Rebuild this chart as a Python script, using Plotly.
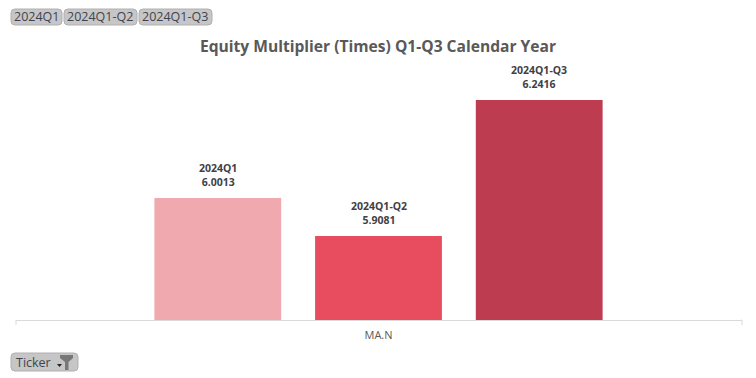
import plotly.graph_objects as go

W, H = 756, 378
L, R, T, B = 16, 741, 60, 320
BARGAP = 0.335

categories = ["MA.N"]
periods = ["2024Q1", "2024Q1-Q2", "2024Q1-Q3"]
equity_multiplier = [6.0013, 5.9081, 6.2416]
bar_colors = ["#F0A9AF", "#E84C5F", "#BE3C50"]
title_text = "Equity Multiplier (Times) Q1-Q3 Calendar Year"
filter_label = "Ticker"
FONT = "Open Sans"


def px(x):
    return (x - L) / (R - L)


def py(y):
    return (B - y) / (B - T)


def round_rect(x0, y0, x1, y1, r=4):
    xa, xb, ya, yb = px(x0), px(x1), py(y0), py(y1)
    rx, ry = r / (R - L), r / (B - T)
    return (f"M{xa+rx},{ya} L{xb-rx},{ya} Q{xb},{ya} {xb},{ya-ry} L{xb},{yb+ry} Q{xb},{yb} {xb-rx},{yb} "
            f"L{xa+rx},{yb} Q{xa},{yb} {xa},{yb+ry} L{xa},{ya-ry} Q{xa},{ya} {xa+rx},{ya} Z")


fig = go.Figure()
annotations = []
slot = (1 - BARGAP) / len(periods)
for i, (period, value, color) in enumerate(zip(periods, equity_multiplier, bar_colors)):
    fig.add_trace(go.Bar(
        x=categories, y=[value], name=period,
        marker=dict(color=color, line=dict(width=0)), showlegend=False,
    ))
    annotations.append(dict(
        xref="x", yref="y", x=(i - (len(periods) - 1) / 2) * slot, y=value, yshift=7,
        text=f"<b>{period}<br>{value:.4f}</b>", showarrow=False,
        xanchor="center", yanchor="bottom",
        font=dict(family=FONT, size=10.5, color="#3F3F46"),
    ))

shapes = []
buttons = [(11, 62, "2024Q1", 36.5), (64, 137, "2024Q1-Q2", 100), (139, 212, "2024Q1-Q3", 174.5)]
for x0, x1, label, cx in buttons:
    shapes.append(dict(type="path", xref="paper", yref="paper", path=round_rect(x0, 9, x1, 25),
                       fillcolor="#C6C6C6", line=dict(color="#B0B0B0", width=1)))
    annotations.append(dict(xref="paper", yref="paper", x=px(cx), y=py(17), text=label, showarrow=False,
                            xanchor="center", yanchor="middle",
                            font=dict(family=FONT, size=12.5, color="#3F4450")))

shapes.append(dict(type="path", xref="paper", yref="paper", path=round_rect(11, 353, 78, 371),
                   fillcolor="#C6C6C6", line=dict(color="#B0B0B0", width=1)))
annotations.append(dict(xref="paper", yref="paper", x=px(14), y=py(362), text=filter_label, showarrow=False,
                        xanchor="left", yanchor="middle", font=dict(family=FONT, size=12.5, color="#3F4450")))
# dropdown arrow and funnel glyph on the filter button
shapes.append(dict(type="path", xref="paper", yref="paper",
                   path=f"M{px(57)},{py(364)} L{px(62)},{py(364)} L{px(59.5)},{py(367)} Z",
                   fillcolor="#222222", line=dict(width=0)))
shapes.append(dict(type="path", xref="paper", yref="paper",
                   path=(f"M{px(60)},{py(355)} L{px(73)},{py(355)} L{px(73)},{py(358)} L{px(68.5)},{py(362)} "
                         f"L{px(68.5)},{py(370)} L{px(65)},{py(370)} L{px(65)},{py(362)} L{px(60)},{py(358)} Z"),
                   fillcolor="#777777", line=dict(width=0)))

# axis tick marks at the category edges
for edge in (L, R + 1):
    shapes.append(dict(type="line", xref="paper", yref="paper", x0=px(edge), x1=px(edge), y0=0, y1=py(325),
                       line=dict(color="#D9D9D9", width=1)))
shapes.append(dict(type="line", xref="paper", yref="paper", x0=1, x1=px(R + 1), y0=0, y1=0,
                   line=dict(color="#D9D9D9", width=1)))

fig.update_layout(
    width=W, height=H, autosize=False,
    margin=dict(l=L, r=W - R, t=T, b=H - B, pad=0),
    paper_bgcolor="white", plot_bgcolor="white",
    barmode="group", bargap=BARGAP, bargroupgap=0.211,
    title=dict(text=f"<b>{title_text}</b>", x=378 / W, xanchor="center", y=1 - 47 / H, yanchor="middle",
               font=dict(family=FONT, size=15.6, color="#595959")),
    xaxis=dict(type="category", showgrid=False, showline=True, linecolor="#D9D9D9", linewidth=1,
               ticks="", tickfont=dict(family=FONT, size=11, color="#595959"), ticklabelstandoff=5),
    yaxis=dict(range=[5.702, 6.3395], visible=False, showgrid=False),
    shapes=shapes, annotations=annotations,
)
fig.write_html("out.html", config=dict(displayModeBar=False),
               post_script="document.body.style.margin='0';document.body.style.overflow='hidden';")
